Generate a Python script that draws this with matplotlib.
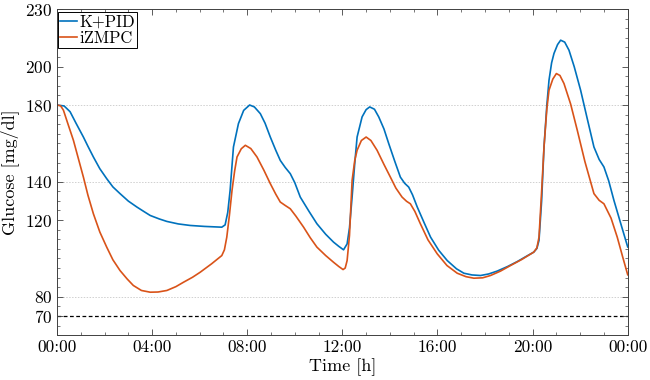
import matplotlib
matplotlib.use('Agg')
import matplotlib.pyplot as plt
from matplotlib.ticker import MultipleLocator
import numpy as np

plt.rcParams['font.family'] = 'serif'
plt.rcParams['font.serif'] = ['cmr10', 'DejaVu Serif']
plt.rcParams['axes.formatter.use_mathtext'] = True

# values (hours, mg/dl)
t_pid = [0, 0.3, 0.55, 0.8, 1.11, 1.3, 1.53, 1.8, 2.09, 2.35, 2.65, 3.0, 3.36, 3.65, 3.92,
         4.3, 4.62, 5.1, 5.6, 6.2, 6.93, 7.07, 7.18, 7.28, 7.42, 7.63, 7.85, 8.1, 8.3,
         8.55, 8.75, 8.97, 9.2, 9.39, 9.6, 9.81, 10.0, 10.23, 10.6, 10.93, 11.3, 11.63,
         11.85, 12.05, 12.2, 12.3, 12.41, 12.52, 12.62, 12.83, 13.0, 13.15, 13.35, 13.53,
         13.75, 13.95, 14.2, 14.44, 14.62, 14.79, 14.95, 15.15, 15.45, 15.71, 16.05,
         16.41, 16.8, 17.11, 17.45, 17.81, 18.15, 18.51, 18.95, 19.36, 19.75, 20.05,
         20.18, 20.27, 20.38, 20.48, 20.6, 20.69, 20.8, 20.9, 21.05, 21.18, 21.35, 21.53,
         21.75, 22.02, 22.3, 22.58, 22.8, 23.0, 23.2, 23.42, 23.7, 24.0]
g_pid = [180, 179.5, 176.5, 170.5, 163.3, 158.5, 152.9, 146.8, 141.6, 137.3, 133.8, 129.9,
         126.8, 124.5, 122.4, 120.6, 119.3, 118.0, 117.2, 116.7, 116.3, 117.5, 124, 135.5,
         158.1, 170.3, 177.2, 180, 179, 175.5, 170.5, 163.3, 156.4, 151.1, 147.4, 144.2,
         139.5, 132, 124.5, 118.1, 112.6, 108.5, 106.3, 104.5, 107.6, 116, 132, 149.4,
         163.3, 173.8, 177.6, 179, 177.8, 173.8, 167.5, 159.9, 150.8, 142.4, 139.2, 137.2,
         133.2, 126.8, 118.3, 111.1, 104.3, 98.9, 94.6, 92.3, 91.4, 91.1, 91.9, 93.4,
         95.8, 98.4, 101.2, 103.3, 105.2, 109.4, 130, 158.1, 180, 192.9, 202, 206.9,
         211.5, 213.8, 212.8, 208.6, 200, 187.7, 172.8, 158.1, 151.6, 147.7, 140.5, 130.3,
         118.5, 106]

t_mpc = [0, 0.15, 0.27, 0.45, 0.69, 0.9, 1.11, 1.3, 1.53, 1.8, 2.09, 2.35, 2.65, 2.95,
         3.21, 3.55, 3.92, 4.25, 4.62, 5.0, 5.32, 5.7, 6.02, 6.5, 6.93, 7.04, 7.14, 7.25,
         7.36, 7.47, 7.57, 7.75, 7.92, 8.15, 8.41, 8.7, 8.97, 9.2, 9.39, 9.6, 9.81, 10.05,
         10.37, 10.65, 10.93, 11.3, 11.63, 11.85, 12.03, 12.12, 12.2, 12.3, 12.41, 12.52,
         12.62, 12.8, 13.0, 13.2, 13.46, 13.75, 14.02, 14.25, 14.51, 14.7, 14.86, 15.05,
         15.28, 15.6, 15.99, 16.4, 16.83, 17.2, 17.53, 17.9, 18.23, 18.65, 19.07, 19.55,
         20.05, 20.18, 20.27, 20.38, 20.48, 20.6, 20.69, 20.85, 21.0, 21.15, 21.32, 21.6,
         21.88, 22.2, 22.58, 22.8, 23.0, 23.3, 23.56, 23.8, 24.0]
g_mpc = [180, 179.6, 177.3, 170.5, 161.6, 152.0, 142.4, 133.0, 123.3, 113.8, 105.9, 99.3,
         93.7, 89.3, 85.9, 83.3, 82.4, 82.5, 83.3, 85.3, 87.6, 90.2, 92.8, 97.2, 101.5,
         104.5, 111.1, 122.5, 135.5, 145.6, 152.9, 157.2, 159, 157.3, 152.9, 146.0, 139,
         133.5, 129.4, 127.6, 125.9, 122.0, 116.3, 110.8, 105.9, 101.5, 98, 95.8, 94.2,
         95.0, 98.9, 112.0, 140.7, 151.0, 156.4, 161.5, 163.3, 161.5, 156.4, 149.0, 142.4,
         136.7, 132, 129.8, 128.5, 124.5, 118.1, 109.7, 102.4, 96.3, 92.3, 90.5, 89.7,
         89.9, 91.1, 93.4, 96.3, 99.5, 103.3, 105.5, 111.1, 135, 158.1, 178, 187.7, 193.5,
         196.4, 195.4, 191.2, 180.5, 166.8, 150.5, 133.8, 130.3, 128.5, 121.0, 111.1,
         100.3, 91.5]

ytick_vals = [70, 80, 120, 140, 180, 200, 230]
grid_vals = [80, 140, 180]
hypo_level = 70
xtick_hours = [0, 4, 8, 12, 16, 20, 24]
xtick_labels = ['00:00', '04:00', '08:00', '12:00', '16:00', '20:00', '00:00']

fig = plt.figure(figsize=(6.5, 3.8), dpi=100)
ax = fig.add_axes([0.0877, 0.118, 0.878, 0.858])

for g in grid_vals:
    ax.axhline(g, color='#d0d0d0', lw=0.7, ls=(0, (1.5, 1.5)), zorder=0)
ax.axhline(hypo_level, color='black', lw=0.9, ls=(0, (3, 2)), zorder=1)

ax.plot(t_pid, g_pid, color='#0072BD', lw=1.2, label='K+PID', solid_joinstyle='round')
ax.plot(t_mpc, g_mpc, color='#D95319', lw=1.2, label='iZMPC', solid_joinstyle='round')

ax.set_xlim(0, 24)
ax.set_ylim(60, 230)
ax.set_xticks(xtick_hours)
ax.set_xticklabels(xtick_labels)
ax.xaxis.set_minor_locator(MultipleLocator(1))
ax.set_yticks(ytick_vals)
ax.yaxis.set_minor_locator(MultipleLocator(5))
ax.tick_params(which='both', direction='in', top=True, right=True,
               color='#404040', labelsize=12.5)
ax.tick_params(which='major', length=4, width=0.6)
ax.tick_params(which='minor', length=2, width=0.5)
for s in ax.spines.values():
    s.set_color('#404040')
    s.set_linewidth(0.7)

ax.set_xlabel('Time [h]', fontsize=13, labelpad=2)
ax.set_ylabel('Glucose [mg/dl]', fontsize=13, labelpad=4)

leg = ax.legend(loc='upper left', bbox_to_anchor=(0.002, 0.99), fontsize=12,
                handlelength=1.0, handletextpad=0.15, borderpad=0.12,
                labelspacing=0.05, borderaxespad=0.0, fancybox=False,
                framealpha=1)
leg.get_frame().set_edgecolor('black')
leg.get_frame().set_linewidth(0.7)

plt.savefig('out.png', dpi=100)
